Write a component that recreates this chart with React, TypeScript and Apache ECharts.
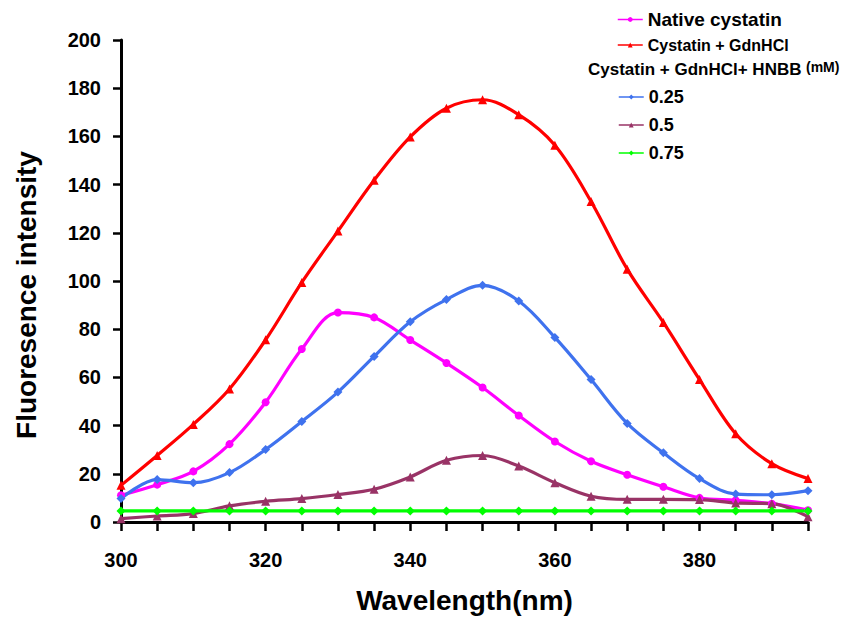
import React, { useEffect, useRef } from "react";
import * as echarts from "echarts";

const wavelengths = [300, 305, 310, 315, 320, 325, 330, 335, 340, 345, 350, 355, 360, 365, 370, 375, 380, 385, 390, 395];
const nativeCystatin = [11.1, 15.5, 21.0, 32.3, 49.7, 71.8, 86.9, 84.9, 75.5, 66.0, 55.8, 44.2, 33.4, 25.2, 19.6, 14.6, 10.0, 9.0, 7.6, 4.9];
const cystatinGdn = [15.2, 27.6, 40.5, 55.2, 75.6, 99.4, 120.7, 141.8, 159.8, 171.7, 175.2, 169.0, 156.3, 133.0, 104.9, 82.8, 59.1, 36.6, 24.2, 18.0];
const hnbb025 = [9.7, 17.6, 16.3, 20.5, 30.1, 41.7, 53.9, 68.7, 83.1, 92.3, 98.2, 91.7, 76.6, 59.1, 40.9, 28.7, 18.0, 11.6, 11.3, 13.0];
const hnbb05 = [1.4, 2.5, 3.5, 6.7, 8.6, 9.7, 11.4, 13.6, 18.7, 25.6, 27.6, 23.2, 16.3, 10.7, 9.4, 9.4, 9.3, 7.9, 7.6, 2.2];
const hnbb075 = [4.6, 4.6, 4.6, 4.6, 4.6, 4.6, 4.6, 4.6, 4.6, 4.6, 4.6, 4.6, 4.6, 4.6, 4.6, 4.6, 4.6, 4.6, 4.6, 4.6];

const seriesNames = ["Native cystatin", "Cystatin + GdnHCl", "0.25", "0.5", "0.75"];
const legendTitle = "Cystatin + GdnHCl+ HNBB";
const legendUnit = "(mM)";
const xTitle = "Wavelength(nm)";
const yTitle = "Fluoresence intensity";

const FONT = "'Liberation Sans', Arial, Helvetica, sans-serif";

function pairs(values: number[]) {
  return wavelengths.map((w, i) => [w, values[i]]);
}

export default function App() {
  const ref = useRef<HTMLDivElement>(null);
  useEffect(() => {
    if (!ref.current) return;
    const chart = echarts.init(ref.current, null, { renderer: "svg" });
    const mk = (name: string, data: number[], color: string, symbol: string, size: number) => ({
      name,
      type: "line",
      data: pairs(data),
      smooth: 0.35,
      symbol,
      symbolSize: size,
      showSymbol: true,
      lineStyle: { color, width: 3.2 },
      itemStyle: { color },
    });
    const legendBase = (name: string, left: number, top: number, fontSize: number) => ({
      data: [name],
      left,
      top,
      padding: 0,
      itemWidth: 25,
      itemHeight: 6,
      itemGap: 0,
      selectedMode: false,
      lineStyle: { width: 1.5 },
      textStyle: { fontFamily: FONT, fontWeight: "bold", fontSize, color: "#000", lineHeight: fontSize + 2 },
    });
    chart.setOption({
      animation: false,
      backgroundColor: "#fff",
      grid: { left: 121, right: 33, top: 40, bottom: 95.5, containLabel: false },
      xAxis: {
        type: "value",
        min: 300,
        max: 395,
        interval: 5,
        splitLine: { show: false },
        axisLine: { show: true, lineStyle: { color: "#000", width: 3 } },
        axisTick: { show: true, length: 9, lineStyle: { color: "#000", width: 2.5 } },
        axisLabel: {
          formatter: (v: number) => (v % 20 === 0 && v < 395 ? String(v) : ""),
          fontFamily: FONT,
          fontWeight: "bold",
          fontSize: 20,
          color: "#000",
          margin: 28,
          showMaxLabel: true,
          showMinLabel: true,
        },
        name: xTitle,
        nameLocation: "middle",
        nameGap: 64,
        nameTextStyle: { fontFamily: FONT, fontWeight: "bold", fontSize: 28, color: "#000" },
      },
      yAxis: {
        type: "value",
        min: 0,
        max: 200,
        interval: 20,
        splitLine: { show: false },
        axisLine: { show: true, lineStyle: { color: "#000", width: 3 } },
        axisTick: { show: true, length: 8, lineStyle: { color: "#000", width: 2.5 } },
        axisLabel: { fontFamily: FONT, fontWeight: "bold", fontSize: 20, color: "#000", margin: 20 },
        name: yTitle,
        nameLocation: "middle",
        nameRotate: 90,
        nameGap: 81,
        nameTextStyle: { fontFamily: FONT, fontWeight: "bold", fontSize: 28, color: "#000", padding: [0, 28, 0, 0] },
      },
      legend: [
        legendBase(seriesNames[0], 617, 9, 19),
        legendBase(seriesNames[1], 617, 36, 16),
        legendBase(seriesNames[2], 618, 87, 18),
        legendBase(seriesNames[3], 618, 115, 18),
        legendBase(seriesNames[4], 618, 143, 18),
      ],
      graphic: [
        {
          type: "text",
          left: 588,
          top: 61,
          style: { text: legendTitle, fontFamily: FONT, fontWeight: "bold", fontSize: 17, fill: "#000" },
        },
        {
          type: "text",
          left: 806,
          top: 60,
          style: { text: legendUnit, fontFamily: FONT, fontWeight: "bold", fontSize: 14, fill: "#000" },
        },
      ],
      series: [
        mk(seriesNames[0], nativeCystatin, "#FF00FF", "circle", 8),
        mk(seriesNames[1], cystatinGdn, "#FF0000", "triangle", 9),
        mk(seriesNames[2], hnbb025, "#3F72EE", "diamond", 9),
        mk(seriesNames[3], hnbb05, "#993366", "triangle", 9),
        mk(seriesNames[4], hnbb075, "#00FF00", "diamond", 9),
      ],
    });
    return () => chart.dispose();
  }, []);
  return <div ref={ref} style={{ position: "fixed", left: 0, top: 0, width: 841, height: 619 }} />;
}
